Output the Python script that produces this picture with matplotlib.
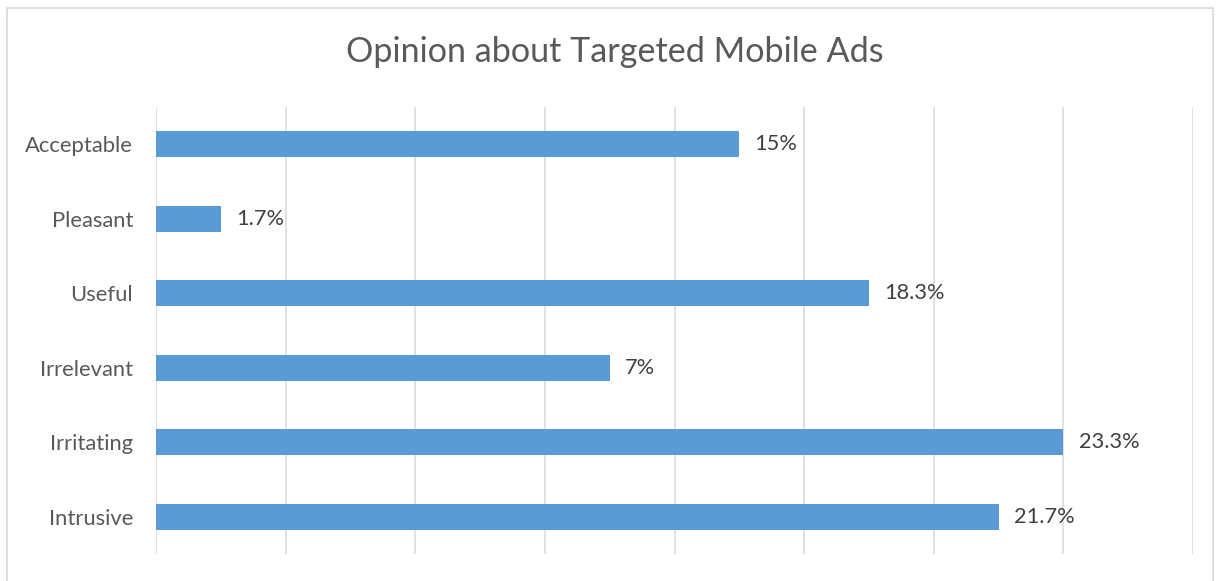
import numpy as np
from matplotlib import pyplot as plt
from matplotlib.patches import Rectangle

categories = ["Acceptable", "Pleasant", "Useful", "Irrelevant", "Irritating", "Intrusive"]
values = [15.0, 1.667, 18.33, 11.67, 23.33, 21.67]
labels = ["15%", "1.7%", "18.3%", "7%", "23.3%", "21.7%"]
grid_step = 10 / 3

plt.rcParams['font.family'] = ['Lato', 'DejaVu Sans']

fig = plt.figure(figsize=(12.18, 5.81), dpi=100)
ax = fig.add_axes([156 / 1218, 1 - 554 / 581, (1193 - 156) / 1218, (554 - 107) / 581])

y = np.arange(len(categories))
ax.barh(y, values, height=0.35, color="#5B9BD5", zorder=3)
for yi, v, lab in zip(y, values, labels):
    ax.annotate(lab, (v, yi), xytext=(11, 0), textcoords="offset points",
                va="center", ha="left", fontsize=15.7, color="#404040")

ax.set_xlim(0, 8 * grid_step)
ax.set_ylim(len(categories) - 0.5, -0.5)
ax.set_xticks(np.arange(9) * grid_step)
ax.set_xticklabels([])
ax.set_yticks(y)
ax.set_yticklabels(categories, fontsize=15.8, color="#595959")
ax.tick_params(axis="both", length=0)
ax.tick_params(axis="y", pad=16.5)
ax.grid(axis="x", color="#D9D9D9", linewidth=1.1, zorder=0)
for s in ax.spines.values():
    s.set_visible(False)

fig.text(615 / 1218, 1 - 52 / 581, "Opinion about Targeted Mobile Ads",
         ha="center", va="center", fontsize=24.6, color="#595959")

fig.patches.append(Rectangle((7 / 1218, -0.01), (1213 - 7) / 1218, 1 - 8 / 581 + 0.01,
                             transform=fig.transFigure, fill=False,
                             edgecolor="#D9D9D9", linewidth=1.2))

fig.savefig("out.png", dpi=100)
